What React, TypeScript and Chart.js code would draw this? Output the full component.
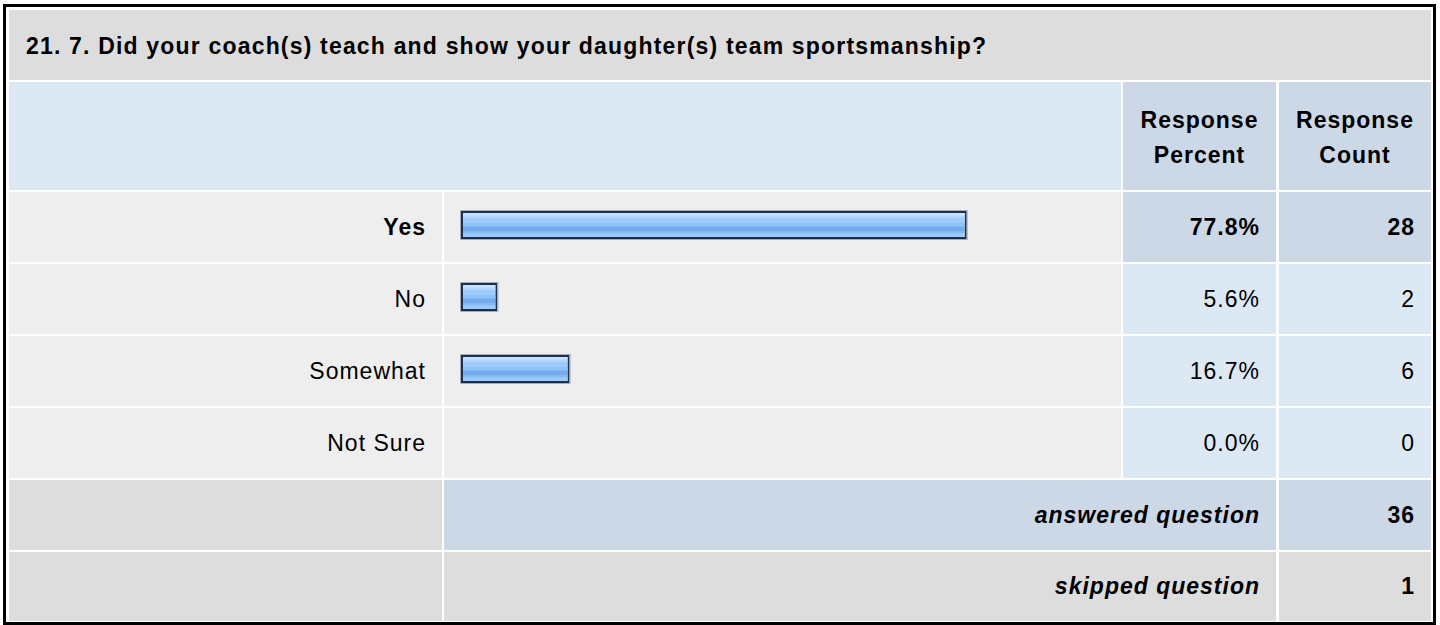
import React, { useEffect, useRef } from "react";
import { Chart, registerables } from "chart.js";

Chart.register(...registerables);

// ---------- data ----------
const questionTitle =
  "21. 7. Did your coach(s) teach and show your daughter(s) team sportsmanship?";
const categories = ["Yes", "No", "Somewhat", "Not Sure"];
const responsePercent = [77.8, 5.6, 16.7, 0.0];
const responseCount = [28, 2, 6, 0];
const percentHeader = ["Response", "Percent"];
const countHeader = ["Response", "Count"];
const answeredLabel = "answered question";
const skippedLabel = "skipped question";
const answeredCount = 36;
const skippedCount = 1;

// ---------- layout / style constants ----------
const FONT = '"Liberation Sans", Arial, Helvetica, sans-serif';
const FS = 23;
const LS = "1px";
const C1: [number, number] = [9, 442];
const C2: [number, number] = [444, 1121];
const C3: [number, number] = [1123, 1276];
const C4: [number, number] = [1279, 1431];
const GRAY = "#DDDDDD";
const LIGHT = "#EEEEEE";
const BLUE_L = "#DDE8F5";
const BLUE_D = "#CCD8E6";

type CellProps = {
  x: [number, number];
  y: [number, number];
  bg: string;
  align?: "left" | "right" | "center";
  bold?: boolean;
  italic?: boolean;
  pad?: number;
  shift?: number;
  ls?: string;
  children?: React.ReactNode;
};

function Cell({ x, y, bg, align = "right", bold, italic, pad = 16, shift = 0, ls = LS, children }: CellProps) {
  return (
    <div
      style={{
        position: "absolute",
        left: x[0],
        top: y[0],
        width: x[1] - x[0],
        height: y[1] - y[0],
        background: bg,
        display: "flex",
        alignItems: "center",
        justifyContent: align === "right" ? "flex-end" : align === "left" ? "flex-start" : "center",
        boxSizing: "border-box",
        paddingLeft: align === "left" ? pad : 0,
        paddingRight: align === "right" ? pad : 0,
        paddingTop: shift,
        fontFamily: FONT,
        fontSize: FS,
        letterSpacing: ls,
        fontWeight: bold ? 700 : 400,
        fontStyle: italic ? "italic" : "normal",
        color: "#000",
        whiteSpace: "nowrap",
        textAlign: align,
      }}
    >
      {children}
    </div>
  );
}

const GRAD_STOPS: [number, string][] = [
  [0.0, "#C9E4FF"],
  [0.17, "#C9E4FF"],
  [0.175, "#B1D6FF"],
  [0.27, "#B1D6FF"],
  [0.275, "#9DCBFF"],
  [0.42, "#9DCBFF"],
  [0.425, "#90C2FA"],
  [0.55, "#90C2FA"],
  [0.555, "#74ABEC"],
  [0.69, "#74ABEC"],
  [0.695, "#86BAF5"],
  [0.79, "#86BAF5"],
  [0.795, "#9CCAFD"],
  [1.0, "#9CCAFD"],
];

const haloPlugin = {
  id: "barHalo",
  afterDatasetsDraw(chart: any) {
    const ctx = chart.ctx;
    const meta = chart.getDatasetMeta(0);
    ctx.save();
    ctx.strokeStyle = "rgba(70,90,120,0.45)";
    ctx.lineWidth = 1;
    meta.data.forEach((el: any) => {
      const p = el.getProps(["x", "y", "base", "height"], true);
      const w = p.x - p.base;
      if (!(w > 0)) return;
      ctx.strokeRect(p.base - 0.5, p.y - p.height / 2 - 0.5, w + 1, p.height + 1);
    });
    ctx.restore();
  },
};

function BarChart() {
  const ref = useRef<HTMLCanvasElement | null>(null);
  useEffect(() => {
    if (!ref.current) return;
    const chart = new Chart(ref.current, {
      type: "bar",
      data: {
        labels: categories,
        datasets: [
          {
            data: responsePercent,
            backgroundColor: (c: any) => {
              const ch = c.chart;
              const ys = ch.scales && ch.scales.y;
              if (!ys || c.dataIndex === undefined) return "#9ECBFF";
              const cy = ys.getPixelForValue(c.dataIndex);
              if (!Number.isFinite(cy)) return "#9ECBFF";
              const t = cy - 14.5;
              const g = ch.ctx.createLinearGradient(0, t, 0, t + 29);
              GRAD_STOPS.forEach(([o, col]) => g.addColorStop(o, col));
              return g;
            },
            borderColor: "#1B2F4E",
            borderWidth: 2,
            borderSkipped: false,
            barThickness: 28,
            inflateAmount: 0,
          } as any,
        ],
      },
      options: {
        indexAxis: "y",
        animation: false,
        responsive: false,
        maintainAspectRatio: false,
        layout: { padding: { left: 17, right: 11, top: 0, bottom: 0 } },
        scales: {
          x: { min: 0, max: 100, display: false },
          y: { display: false },
        },
        plugins: { legend: { display: false }, tooltip: { enabled: false } },
        events: [],
      },
      plugins: [haloPlugin],
    });
    return () => chart.destroy();
  }, []);
  return (
    <canvas
      ref={ref}
      width={678}
      height={288}
      style={{ position: "absolute", left: 444, top: 189, width: 678, height: 288 }}
    />
  );
}

export default function App() {
  const maxCount = Math.max(...responseCount);
  const rowTop = (i: number) => 192 + i * 72;
  return (
    <div
      style={{
        position: "fixed",
        left: 0,
        top: 0,
        width: 1440,
        height: 625,
        background: "#FFFFFF",
        overflow: "hidden",
      }}
    >
      <div
        style={{
          position: "absolute",
          left: 3,
          top: 4,
          width: 1433,
          height: 621,
          border: "3px solid #000",
          boxSizing: "border-box",
        }}
      />
      {/* title */}
      <Cell x={[C1[0], C4[1]]} y={[10, 80]} bg={GRAY} align="left" bold pad={17} shift={3} ls="1.18px">
        {questionTitle}
      </Cell>
      {/* header */}
      <Cell x={[C1[0], C2[1]]} y={[82, 190]} bg={BLUE_L} />
      <Cell x={C3} y={[82, 190]} bg={BLUE_D} align="center" bold shift={3}>
        <div style={{ lineHeight: "35px" }}>
          {percentHeader[0]}
          <br />
          {percentHeader[1]}
        </div>
      </Cell>
      <Cell x={C4} y={[82, 190]} bg={BLUE_D} align="center" bold shift={3}>
        <div style={{ lineHeight: "35px" }}>
          {countHeader[0]}
          <br />
          {countHeader[1]}
        </div>
      </Cell>
      {/* data rows */}
      {categories.map((cat, i) => {
        const top = rowTop(i);
        const y: [number, number] = [top, top + 70];
        const hi = responseCount[i] === maxCount;
        return (
          <React.Fragment key={cat}>
            <Cell x={C1} y={y} bg={LIGHT} bold={hi}>
              {cat}
            </Cell>
            <Cell x={C2} y={y} bg={LIGHT} />
            <Cell x={C3} y={y} bg={hi ? BLUE_D : BLUE_L} bold={hi}>
              {responsePercent[i].toFixed(1) + "%"}
            </Cell>
            <Cell x={C4} y={y} bg={hi ? BLUE_D : BLUE_L} bold={hi}>
              {String(responseCount[i])}
            </Cell>
          </React.Fragment>
        );
      })}
      {/* summary rows */}
      <Cell x={C1} y={[480, 550]} bg={GRAY} />
      <Cell x={[C2[0], C3[1]]} y={[480, 550]} bg={BLUE_D} bold italic>
        {answeredLabel}
      </Cell>
      <Cell x={C4} y={[480, 550]} bg={BLUE_D} bold>
        {String(answeredCount)}
      </Cell>
      <Cell x={C1} y={[552, 621]} bg={GRAY} />
      <Cell x={[C2[0], C3[1]]} y={[552, 621]} bg={GRAY} bold italic>
        {skippedLabel}
      </Cell>
      <Cell x={C4} y={[552, 621]} bg={GRAY} bold>
        {String(skippedCount)}
      </Cell>
      <BarChart />
    </div>
  );
}
